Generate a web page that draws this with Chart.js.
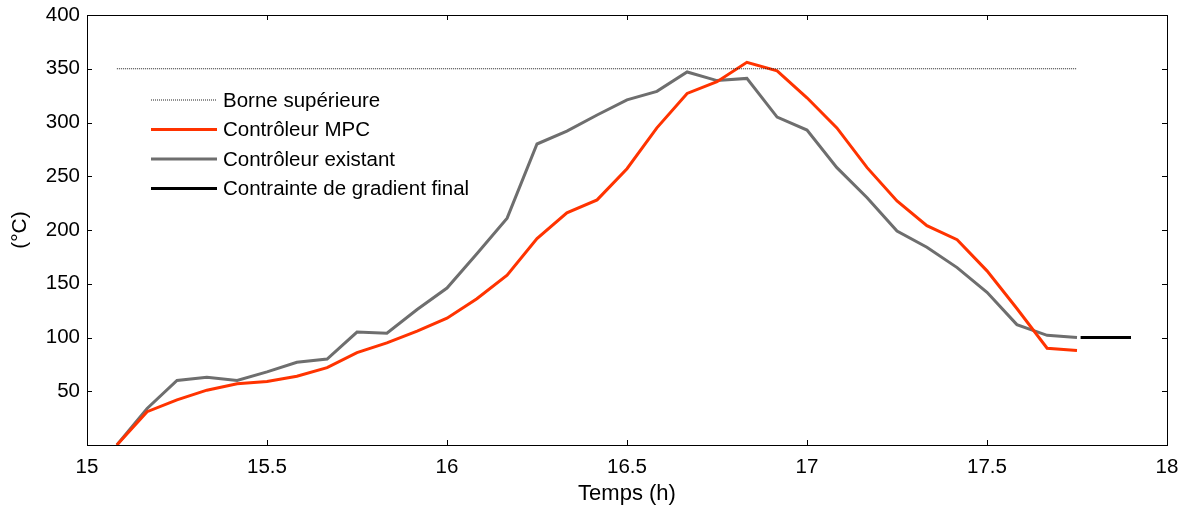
<!DOCTYPE html>
<html>
<head>
<meta charset="utf-8">
<script src="https://cdn.jsdelivr.net/npm/chart.js@4/dist/chart.umd.min.js"></script>
<style>
    html, body { margin: 0; padding: 0; background: #fff; }
    #wrap { width: 1194px; height: 510px; }
</style>
</head>
<body>
<div id="wrap"><canvas id="tempChart" width="1194" height="510"></canvas></div>
<script>
// Données
const temps = [15.083, 15.167, 15.25, 15.333, 15.417, 15.5, 15.583, 15.667, 15.75, 15.833, 15.917,
    16, 16.083, 16.167, 16.25, 16.333, 16.417, 16.5, 16.583, 16.667, 16.75, 16.833, 16.917,
    17, 17.083, 17.167, 17.25, 17.333, 17.417, 17.5, 17.583, 17.667, 17.75];
const mpc = [0, 31, 42, 51, 57, 59, 64, 72, 86, 95, 106,
    118, 136, 158, 192, 216, 228, 257, 295, 327, 338, 356, 348,
    323, 295, 258, 227, 204, 191, 162, 127, 90, 88];
const existant = [0, 34, 60, 63, 60, 68, 77, 80, 105, 104, 126,
    146, 178, 211, 280, 292, 307, 321, 329, 347, 339, 341, 305,
    293, 258, 230, 199, 184, 165, 142, 112, 102, 100];
const borneX = [15.083, 17.75];
const borneY = [350, 350];
const gradientX = [17.76, 17.9];
const gradientY = [100, 100];
const xTicks = [15, 15.5, 16, 16.5, 17, 17.5, 18];
const yTicks = [50, 100, 150, 200, 250, 300, 350, 400];

const FONT = 'Liberation Sans, Arial, sans-serif';

function toPoints(xs, ys) {
    return xs.map((x, i) => ({ x: x, y: ys[i] }));
}

// Cadre + graduations vers l'intérieur (style MATLAB)
const boxPlugin = {
    id: 'boxPlugin',
    afterDraw(chart) {
        const ctx = chart.ctx;
        const a = chart.chartArea;
        const xs = chart.scales.x;
        const ys = chart.scales.y;
        const len = 5;
        ctx.save();
        ctx.strokeStyle = '#000';
        ctx.lineWidth = 1;
        ctx.strokeRect(Math.round(a.left) + 0.5, Math.round(a.top) + 0.5,
            Math.round(a.right - a.left), Math.round(a.bottom - a.top));
        ctx.beginPath();
        xTicks.forEach(v => {
            const px = Math.round(xs.getPixelForValue(v)) + 0.5;
            ctx.moveTo(px, a.bottom); ctx.lineTo(px, a.bottom - len);
            ctx.moveTo(px, a.top); ctx.lineTo(px, a.top + len);
        });
        yTicks.forEach(v => {
            const py = Math.round(ys.getPixelForValue(v)) + 0.5;
            ctx.moveTo(a.left, py); ctx.lineTo(a.left + len, py);
            ctx.moveTo(a.right, py); ctx.lineTo(a.right - len, py);
        });
        ctx.stroke();
        ctx.restore();
    }
};

// Légende sans cadre, en haut à gauche
const legendPlugin = {
    id: 'legendPlugin',
    afterDatasetsDraw(chart) {
        const ctx = chart.ctx;
        const x0 = 151, x1 = 217, tx = 223;
        let y = 100;
        ctx.save();
        ctx.font = '20.5px ' + FONT;
        ctx.textBaseline = 'middle';
        chart.data.datasets.forEach(ds => {
            ctx.strokeStyle = ds.borderColor;
            ctx.lineWidth = ds.borderWidth;
            ctx.setLineDash(ds.borderDash || []);
            ctx.beginPath();
            ctx.moveTo(x0, y);
            ctx.lineTo(x1, y);
            ctx.stroke();
            ctx.setLineDash([]);
            ctx.fillStyle = '#000';
            ctx.fillText(ds.label, tx, y + 1);
            y += 29.5;
        });
        ctx.restore();
    }
};

const ctx = document.getElementById('tempChart');
new Chart(ctx, {
    type: 'line',
    data: {
        datasets: [{
            label: 'Borne supérieure',
            data: toPoints(borneX, borneY),
            borderColor: '#222',
            borderWidth: 1,
            borderDash: [1, 1],
            pointRadius: 0
        }, {
            label: 'Contrôleur MPC',
            data: toPoints(temps, mpc),
            borderColor: '#ff3300',
            borderWidth: 3,
            pointRadius: 0
        }, {
            label: 'Contrôleur existant',
            data: toPoints(temps, existant),
            borderColor: '#6e6e6e',
            borderWidth: 3,
            pointRadius: 0
        }, {
            label: 'Contrainte de gradient final',
            data: toPoints(gradientX, gradientY),
            borderColor: '#000',
            borderWidth: 3,
            pointRadius: 0
        }]
    },
    options: {
        responsive: false,
        animation: false,
        layout: { padding: { top: 15, right: 27, left: 0, bottom: 0 } },
        plugins: {
            legend: { display: false },
            tooltip: { enabled: false }
        },
        scales: {
            x: {
                type: 'linear',
                min: 15,
                max: 18,
                afterBuildTicks: s => { s.ticks = xTicks.map(v => ({ value: v })); },
                afterFit: s => { s.height = 65; s.paddingLeft = 0; s.paddingRight = 0; },
                grid: { display: false, drawTicks: false },
                border: { display: false },
                ticks: {
                    color: '#000',
                    padding: 10,
                    maxRotation: 0,
                    callback: v => String(v),
                    font: { family: FONT, size: 20.5 }
                },
                title: {
                    display: true,
                    text: 'Temps (h)',
                    color: '#000',
                    padding: { top: 0, bottom: 3 },
                    font: { family: FONT, size: 22 }
                }
            },
            y: {
                min: 0,
                max: 400,
                afterBuildTicks: s => { s.ticks = yTicks.map(v => ({ value: v })); },
                afterFit: s => { s.width = 87; s.paddingTop = 0; s.paddingBottom = 0; },
                grid: { display: false, drawTicks: false },
                border: { display: false },
                ticks: {
                    color: '#000',
                    padding: 7,
                    font: { family: FONT, size: 20.5 }
                },
                title: {
                    display: true,
                    text: '(°C)',
                    color: '#000',
                    padding: { top: 8, bottom: 0 },
                    font: { family: FONT, size: 21 }
                }
            }
        }
    },
    plugins: [boxPlugin, legendPlugin]
});
</script>
</body>
</html>
